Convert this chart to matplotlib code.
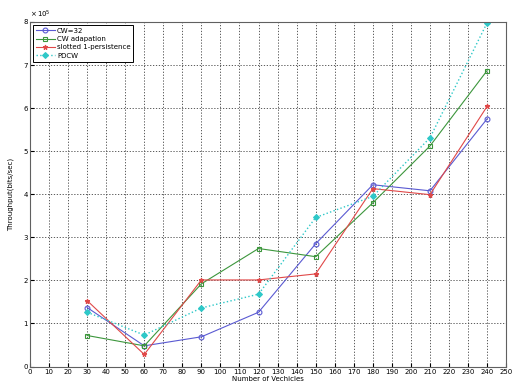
import numpy as np
import matplotlib.pyplot as plt

# vehicle counts and throughput (in units of 1e5 bits/sec)
vehicles = [30, 60, 90, 120, 150, 180, 210, 240]
cw32 = [1.37, 0.48, 0.69, 1.26, 2.85, 4.22, 4.08, 5.75]
cw_adapt = [0.72, 0.48, 1.92, 2.74, 2.55, 3.80, 5.12, 6.87]
slotted = [1.53, 0.28, 2.01, 2.01, 2.15, 4.13, 3.99, 6.04]
pdcw = [1.26, 0.73, 1.36, 1.68, 3.46, 3.95, 5.31, 7.98]

fig = plt.figure(figsize=(5.17, 3.85), dpi=100)
ax = fig.add_axes([0.058, 0.048, 0.921, 0.895])

ax.plot(vehicles, cw32, '-o', color='#5a5ad2', lw=0.8, ms=3.5, mfc='none', mew=0.8, label='CW=32')
ax.plot(vehicles, cw_adapt, '-s', color='#3c963c', lw=0.8, ms=3.5, mfc='none', mew=0.8, label='CW adapation')
ax.plot(vehicles, slotted, '-*', color='#e04848', lw=0.8, ms=3.5, mew=0.8, label='slotted 1-persistence')
ax.plot(vehicles, pdcw, ':D', color='#2ec8c8', lw=1.0, ms=3, mew=0.8, label='PDCW')

ax.set_xlim(0, 250)
ax.set_ylim(0, 8)
ax.set_xticks(np.arange(0, 251, 10))
ax.set_yticks(np.arange(0, 9, 1))
ax.tick_params(direction='in', labelsize=5, length=3, pad=1.5)
ax.grid(True, linestyle=(0, (1.5, 2)), color='#404040', lw=0.6)

ax.set_xlabel('Number of Vechicles', fontsize=5, labelpad=1)
ax.set_ylabel('Throughput(bits/sec)', fontsize=5, labelpad=7)
ax.text(0.0, 1.012, r'$\times\,10^5$', transform=ax.transAxes, fontsize=5)

for s in ax.spines.values():
    s.set_color('#606060')
    s.set_linewidth(0.8)

leg = ax.legend(loc='upper left', fontsize=5, frameon=True, fancybox=False,
                edgecolor='black', framealpha=1, handlelength=2.8,
                borderaxespad=0.4, labelspacing=0.35, handletextpad=0.3)
leg.get_frame().set_linewidth(0.7)

fig.savefig('out.png', dpi=100)
